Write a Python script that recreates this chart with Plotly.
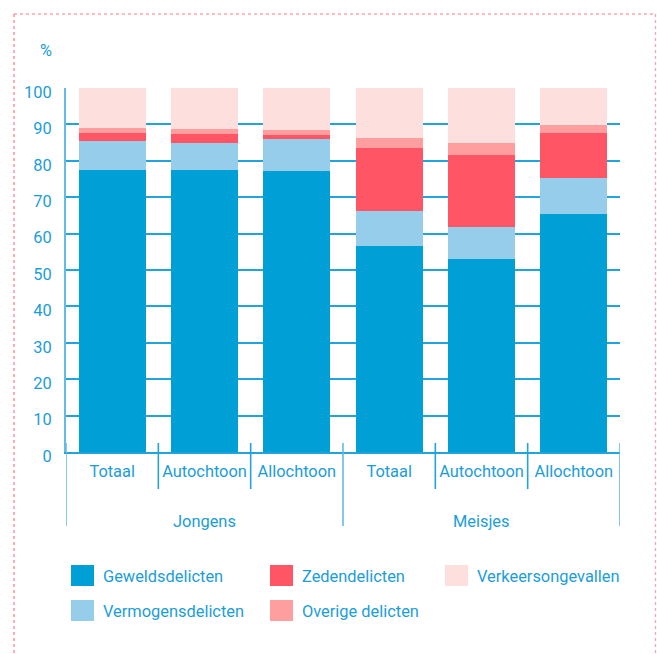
import plotly.graph_objects as go

# ---- data ----
groups = ["Jongens", "Meisjes"]
subgroups = ["Totaal", "Autochtoon", "Allochtoon", "Totaal", "Autochtoon", "Allochtoon"]
series_names = ["Geweldsdelicten", "Vermogensdelicten", "Zedendelicten", "Overige delicten", "Verkeersongevallen"]
geweld = [77.4, 77.4, 77.1, 56.7, 52.9, 65.3]
vermogen = [8.0, 7.4, 8.9, 9.4, 8.8, 9.9]
zeden = [2.2, 2.5, 1.1, 17.4, 19.8, 12.4]
overige = [1.4, 1.4, 1.3, 2.7, 3.3, 2.2]
verkeer = [11.0, 11.3, 11.6, 13.8, 15.2, 10.2]
y_ticks = [0, 10, 20, 30, 40, 50, 60, 70, 80, 90, 100]

series_values = [geweld, vermogen, zeden, overige, verkeer]
colors = ["#00A0D6", "#95CDEA", "#FF5564", "#FF9E9E", "#FDDFDE"]

# ---- styling ----
W, H = 657, 654
PLOT_L, PLOT_R, PLOT_T, PLOT_B = 66, 620, 88, 452  # plot area in window pixels
L, T = PLOT_L, PLOT_T
R = W - PLOT_R
B = H - PLOT_B
PW, PH = PLOT_R - PLOT_L, PLOT_B - PLOT_T
FONT = "Roboto, sans-serif"
FS = 16.4
TXT = "#1B9DDA"
GRID = "#23A3DC"
LIGHT = "#62BCE6"


def px_x(px):
    return (px - PLOT_L) / PW


def px_y(py):
    return (PLOT_B - py) / PH


xs = list(range(len(subgroups)))

fig = go.Figure()
for name, vals, col in zip(series_names, series_values, colors):
    fig.add_trace(go.Bar(x=xs, y=vals, name=name, marker=dict(color=col, line=dict(width=0)),
                         width=0.726, showlegend=False, hoverinfo="y+name"))

shapes = []
n = len(subgroups)
for i in range(n + 1):
    xb = i - 0.5
    long_ = (i % 3 == 0)
    shapes.append(dict(type="line", xref="x", yref="paper", x0=xb, x1=xb,
                       y0=px_y(443), y1=px_y(526 if long_ else 489),
                       line=dict(color=LIGHT if long_ else GRID, width=1.6)))

# dotted frame
FR = "#F27A8C"
shapes.append(dict(type="line", xref="paper", yref="paper", x0=px_x(14), x1=px_x(14),
                   y0=px_y(14), y1=px_y(660), line=dict(color=FR, width=1.2, dash="dot")))
shapes.append(dict(type="line", xref="paper", yref="paper", x0=px_x(14), x1=px_x(656),
                   y0=px_y(14), y1=px_y(14), line=dict(color=FR, width=1.2, dash="dot")))
shapes.append(dict(type="line", xref="paper", yref="paper", x0=px_x(655.5), x1=px_x(655.5),
                   y0=px_y(14), y1=px_y(660), line=dict(color="#F5A6B3", width=1.3, dash="dot")))

annotations = []
annotations.append(dict(text="%", xref="paper", yref="paper", x=px_x(38), y=px_y(51),
                        xanchor="left", yanchor="middle", showarrow=False,
                        font=dict(family=FONT, size=FS, color=TXT)))
for gi, g in enumerate(groups):
    annotations.append(dict(text=g, xref="x", yref="paper", x=gi * 3 + 1, y=px_y(521),
                            xanchor="center", yanchor="middle", showarrow=False,
                            font=dict(family=FONT, size=FS, color=TXT)))

# legend (manual layout: 3 columns x 2 rows)
legend_order = [0, 2, 4, 1, 3]
col_x = [71, 270, 445]
row_y = [575.5, 610.5]
for k, si in enumerate(legend_order):
    r, c = (0, k) if k < 3 else (1, k - 3)
    x0 = col_x[c]
    yc = row_y[r]
    shapes.append(dict(type="rect", xref="paper", yref="paper",
                       x0=px_x(x0), x1=px_x(x0 + 23), y0=px_y(yc - 10.5), y1=px_y(yc + 10.5),
                       fillcolor=colors[si], line=dict(width=0)))
    annotations.append(dict(text=series_names[si], xref="paper", yref="paper",
                            x=px_x(x0 + 30), y=px_y(yc + 1), xanchor="left", yanchor="middle",
                            showarrow=False, font=dict(family=FONT, size=FS, color=TXT)))

fig.update_layout(
    width=W, height=H,
    margin=dict(l=L, r=R, t=T, b=B, pad=0),
    paper_bgcolor="white", plot_bgcolor="white",
    barmode="stack", bargap=0,
    showlegend=False,
    font=dict(family=FONT, size=FS, color=TXT),
    shapes=shapes, annotations=annotations,
    xaxis=dict(range=[-0.5, n - 0.5], tickmode="array", tickvals=xs, ticktext=subgroups,
               tickangle=0, showgrid=False, zeroline=False, showline=True, linecolor=GRID,
               linewidth=2, ticks="", ticklabelstandoff=3,
               tickfont=dict(family=FONT, size=FS, color=TXT), fixedrange=True),
    yaxis=dict(range=[0, 100], tickmode="array", tickvals=y_ticks,
               showgrid=True, gridcolor=GRID, gridwidth=1.6, zeroline=False,
               showline=True, linecolor=LIGHT, linewidth=2, ticks="",
               ticklabelstandoff=9, ticklabelshift=4,
               tickfont=dict(family=FONT, size=FS, color=TXT), fixedrange=True),
)

fig.write_html("out.html", config={"displayModeBar": False},
               post_script="document.body.style.margin='0';document.body.style.overflow='hidden';")
